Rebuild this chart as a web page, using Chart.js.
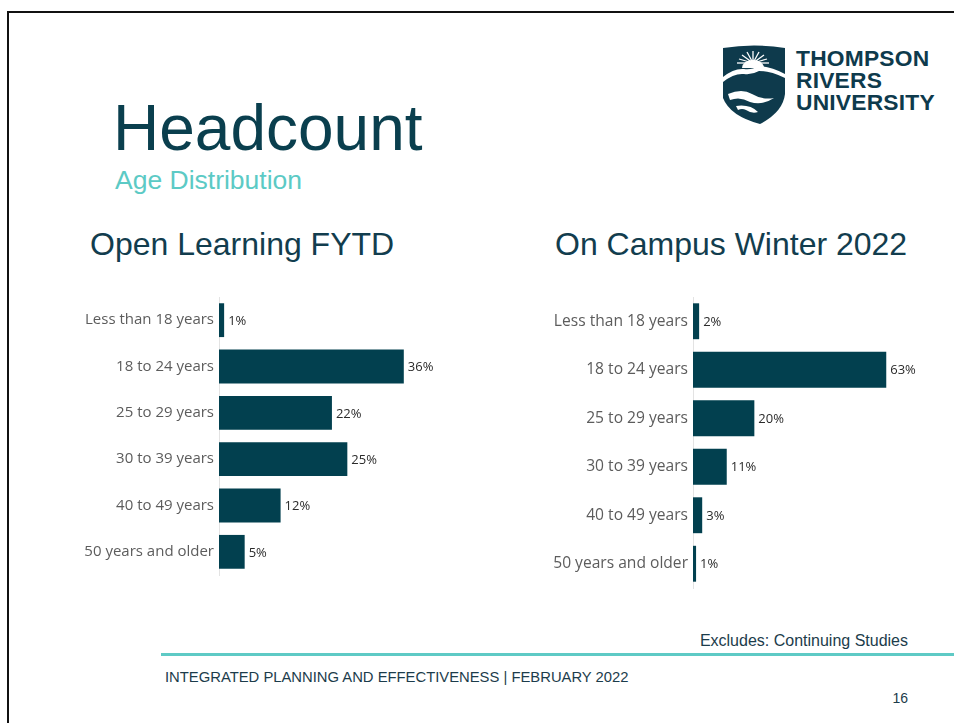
<!DOCTYPE html>
<html>
<head>
<meta charset="utf-8">
<script src="https://cdn.jsdelivr.net/npm/chart.js@4"></script>
<style>
    body { margin: 0; background: #ffffff; width: 954px; height: 723px; position: relative; overflow: hidden; font-family: 'Liberation Sans', Arial, sans-serif; }
    .frame-top { position: absolute; left: 7px; top: 11px; width: 947px; height: 2px; background: #111111; }
    .frame-left { position: absolute; left: 7px; top: 11px; width: 2px; height: 712px; background: #111111; }
    .txt { position: absolute; white-space: nowrap; }
    #title { left: 113px; top: 91px; font-size: 64px; color: #0a3f4e; }
    #subtitle { left: 115px; top: 165px; font-size: 26.5px; color: #5ccac5; }
    #leftTitle { left: 90px; top: 226px; font-size: 32px; color: #123d4e; }
    #rightTitle { left: 555px; top: 226px; font-size: 32px; color: #123d4e; }
    #excludes { right: 46px; top: 632px; font-size: 16px; color: #1c3c4b; }
    #footer { left: 165px; top: 669px; font-size: 14.8px; color: #1c3c4b; }
    #page { right: 46px; top: 690px; font-size: 14px; color: #1c3c4b; }
    .rule { position: absolute; left: 161px; top: 653px; width: 793px; height: 3px; background: #5ecac5; }
    .logo-text { position: absolute; left: 796px; top: 47px; font-size: 22.8px; font-weight: bold; line-height: 22px; color: #0e3a4c; letter-spacing: 0.2px; }
    .chart-box { position: absolute; }
    #leftBox { left: 70px; top: 290px; width: 400px; height: 300px; }
    #rightBox { left: 540px; top: 290px; width: 400px; height: 300px; }
</style>
</head>
<body>
<div class="frame-top"></div>
<div class="frame-left"></div>

<svg style="position:absolute;left:722px;top:44px" width="64" height="80" viewBox="0 0 64 80">
    <path d="M1,4 Q32,-1 63,4 L63,50 Q61,68 38,80 Q8,72 1,54 Z" fill="#0e3a4c"/>
    <g stroke="#ffffff" stroke-width="1.3">
        <line x1="31" y1="19" x2="31" y2="7"/>
        <line x1="31" y1="19" x2="25" y2="8"/>
        <line x1="31" y1="19" x2="37" y2="8"/>
        <line x1="31" y1="19" x2="20" y2="11"/>
        <line x1="31" y1="19" x2="42" y2="11"/>
        <line x1="31" y1="19" x2="17" y2="15"/>
        <line x1="31" y1="19" x2="45" y2="15"/>
        <line x1="31" y1="19" x2="15" y2="19"/>
        <line x1="31" y1="19" x2="47" y2="19"/>
    </g>
    <path d="M20,24 A11,8 0 0 1 42,24 Z" fill="#ffffff"/>
    <path d="M1,33 Q12,24 22,25 Q30,26 36,22 Q48,22 63,30 L63,34 Q48,27 37,27 Q30,31 22,30 Q12,29 1,38 Z" fill="#ffffff"/>
    <path d="M6,50 Q20,44 30,50 Q40,56 52,54 Q40,62 28,58 Q18,52 8,56 Z" fill="#ffffff"/>
    <path d="M14,62 Q28,60 36,68 Q30,70 24,66 Q20,64 16,66 Z" fill="#ffffff"/>
</svg>
<div class="logo-text">THOMPSON<br>RIVERS<br>UNIVERSITY</div>

<div class="txt" id="title">Headcount</div>
<div class="txt" id="subtitle">Age Distribution</div>
<div class="txt" id="leftTitle">Open Learning FYTD</div>
<div class="txt" id="rightTitle">On Campus Winter 2022</div>

<div class="chart-box" id="leftBox"><canvas id="openLearningChart"></canvas></div>
<div class="chart-box" id="rightBox"><canvas id="onCampusChart"></canvas></div>

<div class="txt" id="excludes">Excludes: Continuing Studies</div>
<div class="rule"></div>
<div class="txt" id="footer">INTEGRATED PLANNING AND EFFECTIVENESS | FEBRUARY 2022</div>
<div class="txt" id="page">16</div>

<script>
const ageGroups = [
    'Less than 18 years', '18 to 24 years', '25 to 29 years',
    '30 to 39 years', '40 to 49 years', '50 years and older'
];
const openLearningPct = [1, 36, 22, 25, 12, 5];
const onCampusPct = [2, 63, 20, 11, 3, 1];

const barColor = '#02404f';

const valueLabels = {
    id: 'valueLabels',
    afterDatasetsDraw(chart) {
        const { ctx } = chart;
        const meta = chart.getDatasetMeta(0);
        const values = chart.data.datasets[0].data;
        ctx.save();
        ctx.font = '13px "Open Sans", sans-serif';
        ctx.fillStyle = '#2b2b2b';
        ctx.textAlign = 'left';
        ctx.textBaseline = 'middle';
        meta.data.forEach((bar, i) => {
            ctx.fillText(values[i] + '%', bar.x + 4, bar.y + 1);
        });
        ctx.restore();
    }
};

function makeAgeChart(canvasId, values, opts) {
    return new Chart(document.getElementById(canvasId).getContext('2d'), {
        type: 'bar',
        data: {
            labels: ageGroups,
            datasets: [{
                data: values,
                backgroundColor: barColor,
                borderWidth: 0,
                barPercentage: opts.barPct,
                categoryPercentage: 1
            }]
        },
        plugins: [valueLabels],
        options: {
            indexAxis: 'y',
            responsive: true,
            maintainAspectRatio: false,
            animation: false,
            layout: {
                padding: { top: 7, bottom: opts.bottomPad, right: 20, left: 0 }
            },
            plugins: {
                legend: { display: false },
                tooltip: { enabled: false }
            },
            scales: {
                x: {
                    display: false,
                    min: 0,
                    max: opts.max
                },
                y: {
                    afterFit(scale) {
                        // fixed label column, no extra room for label overhang
                        scale.width = opts.axisWidth;
                        scale.paddingTop = 0;
                        scale.paddingBottom = 0;
                    },
                    grid: {
                        display: false,
                        drawTicks: false
                    },
                    border: {
                        display: true,
                        color: '#e3e3e3',
                        width: 1
                    },
                    ticks: {
                        color: '#5c5c5c',
                        padding: 5,
                        font: {
                            family: '"Open Sans", sans-serif',
                            size: opts.labelSize
                        }
                    }
                }
            }
        }
    });
}

makeAgeChart('openLearningChart', openLearningPct, { max: 45, axisWidth: 149, bottomPad: 15, barPct: 0.73, labelSize: 15 });
makeAgeChart('onCampusChart', onCampusPct, { max: 74, axisWidth: 153, bottomPad: 2, barPct: 0.74, labelSize: 15.6 });
</script>
</body>
</html>
